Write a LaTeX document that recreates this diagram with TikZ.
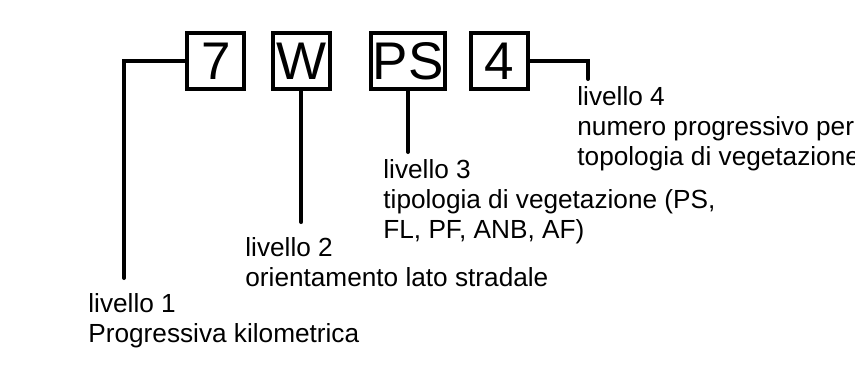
\documentclass[tikz,border=0pt]{standalone}
\usepackage{fontspec}
\setmainfont{Liberation Sans}
\usepackage{tikz}

\begin{document}
\begin{tikzpicture}[x=0.5pt, y=-0.5pt,
  cellbox/.style={draw, line width=2pt, inner sep=0pt, minimum width=28.5pt,
    minimum height=28pt, font=\fontsize{26.5}{30}\selectfont},
  leader/.style={line width=2pt, line cap=round},
  levellabel/.style={anchor=base west, align=left, inner sep=0pt,
    font=\fontsize{13.1}{15}\selectfont}]
\useasboundingbox (0,0) rectangle (855,364);
\clip (0,0) rectangle (855,364);

\node[cellbox] (b7) at (215.9,61.3) {7};
\node[cellbox] (bW) at (301.3,61.3) {W};
\node[cellbox, minimum width=36.7pt] (bPS) at (408,61.3) {PS};
\node[cellbox] (b4) at (499.7,61.3) {4};

\coordinate (e1) at (124,278);
\coordinate (e2) at (301.3,222);
\coordinate (e3) at (408,152);
\coordinate (e4) at (588,79);

\draw[leader] (b7.west) -| (e1);
\draw[leader] (bW.south) -- (e2);
\draw[leader] (bPS.south) -- (e3);
\draw[leader] (b4.east) -| (e4);

% base = baseline of the last line
\node[levellabel] (l1) at (88,342) {livello 1\\Progressiva kilometrica};
\node[levellabel] (l2) at (245,286) {livello 2\\orientamento lato stradale};
\node[levellabel] (l3) at (383,238) {livello 3\\tipologia di vegetazione (PS,\\FL, PF, ANB, AF)};
\node[levellabel] (l4) at (577,165) {livello 4\\numero progressivo per\\topologia di vegetazione};
\end{tikzpicture}
\end{document}
